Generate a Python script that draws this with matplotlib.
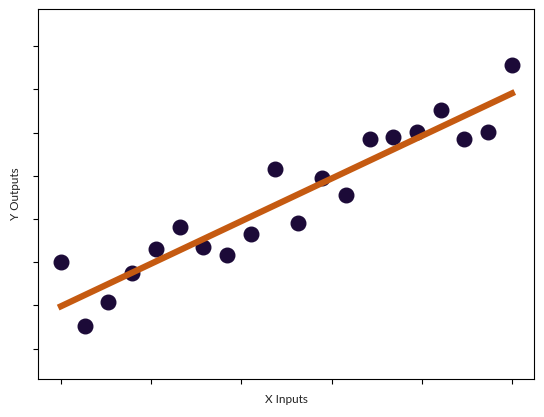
"""Scatter of inputs vs outputs with a least-squares fit line."""
import numpy as np
import matplotlib
matplotlib.use("Agg")
import matplotlib.pyplot as plt

# values
x_inputs = [0.0, 0.0526, 0.1053, 0.1579, 0.2105, 0.2632, 0.3158, 0.3684, 0.4211, 0.4737,
            0.5263, 0.5789, 0.6316, 0.6842, 0.7368, 0.7895, 0.8421, 0.8947, 0.9474, 1.0]
y_outputs = [0.199, -0.097, 0.014, 0.148, 0.259, 0.364, 0.270, 0.231, 0.329, 0.630,
             0.380, 0.591, 0.511, 0.770, 0.778, 0.804, 0.906, 0.770, 0.801, 1.113]
x_ticks = [0.0, 0.2, 0.4, 0.6, 0.8, 1.0]
y_ticks = [-0.2, 0.0, 0.2, 0.4, 0.6, 0.8, 1.0, 1.2]

plt.rcParams["font.family"] = ["Lato", "DejaVu Sans"]

x = np.array(x_inputs)
y = np.array(y_outputs)
slope, intercept = np.polyfit(x, y, 1)

fig = plt.figure(figsize=(5.44, 4.17), dpi=100)
ax = fig.add_axes([38 / 544, 38 / 417, 496 / 544, 370 / 417])

ax.plot(x, slope * x + intercept, color="#c55a11", linewidth=4.5, zorder=3)
ax.scatter(x, y, s=110, color="#1c0a38", zorder=2)

ax.set_xlim(-0.051, 1.049)
ax.set_ylim(-0.341, 1.372)
ax.set_xticks(x_ticks)
ax.set_yticks(y_ticks)
ax.set_xticklabels([])
ax.set_yticklabels([])
ax.set_xlabel("X Inputs", fontsize=8.5, color="#222222", labelpad=4)
ax.set_ylabel("Y Outputs", fontsize=8.5, color="#222222", labelpad=5)

fig.savefig("out.png", dpi=100)
